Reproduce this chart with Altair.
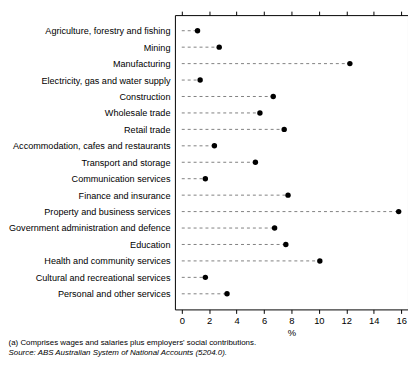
import altair as alt
import pandas as pd

categories = [
    "Agriculture, forestry and fishing",
    "Mining",
    "Manufacturing",
    "Electricity, gas and water supply",
    "Construction",
    "Wholesale trade",
    "Retail trade",
    "Accommodation, cafes and restaurants",
    "Transport and storage",
    "Communication services",
    "Finance and insurance",
    "Property and business services",
    "Government administration and defence",
    "Education",
    "Health and community services",
    "Cultural and recreational services",
    "Personal and other services",
]
values = [1.15, 2.73, 12.26, 1.34, 6.67, 5.7, 7.47, 2.38, 5.37,
          1.72, 7.75, 15.82, 6.77, 7.59, 10.07, 1.72, 3.3]
x_ticks = [0, 2, 4, 6, 8, 10, 12, 14, 16]

df = pd.DataFrame({"category": categories, "value": values, "zero": [0] * len(values)})

FONT = "Liberation Sans"

xscale = alt.Scale(domain=[-0.5, 16.5], nice=False, zero=False)
yenc = alt.Y(
    "category:N",
    sort=categories,
    scale=alt.Scale(type="point", padding=0.95),
    axis=alt.Axis(title=None, ticks=False, domain=False, grid=False,
                  labelColor="black", labelFontSize=9.2, labelFont=FONT,
                  labelPadding=5, labelLimit=200, minExtent=162, maxExtent=162),
)

rules = alt.Chart(df).mark_rule(color="#808080", strokeDash=[3, 3], strokeWidth=1).encode(
    x=alt.X("zero:Q", scale=xscale,
            axis=alt.Axis(values=x_ticks, title="%", orient="bottom", grid=False, domain=False,
                          tickColor="black", tickSize=4, labelColor="black", labelFontSize=9.5,
                          labelFont=FONT, labelPadding=2, titleFont=FONT, titleFontSize=9.5,
                          titleFontWeight="normal", titleColor="black", titlePadding=3)),
    x2="value:Q",
    y=yenc,
)

points = alt.Chart(df).mark_point(filled=True, shape="circle", size=30, color="black", opacity=1).encode(
    x=alt.X("value:Q", scale=xscale,
            axis=alt.Axis(values=x_ticks, title=None, orient="top", labels=False, grid=False,
                          domain=False, tickColor="black", tickSize=4)),
    y=yenc,
)

chart = alt.layer(rules, points).resolve_axis(x="independent").properties(
    width=236,
    height=298,
    padding=0,
    title=alt.TitleParams(
        text="(a) Comprises wages and salaries plus employers' social contributions.",
        subtitle="Source: ABS Australian System of National Accounts (5204.0).",
        orient="bottom", anchor="start", frame="bounds",
        font=FONT, fontSize=8, fontWeight="normal", color="black",
        subtitleFont=FONT, subtitleFontSize=8, subtitleFontStyle="italic", subtitleColor="black",
        offset=2, subtitlePadding=2,
    ),
).configure_view(stroke="black", strokeWidth=1)

chart.save("out.html", embed_options={"renderer": "svg", "actions": False})
